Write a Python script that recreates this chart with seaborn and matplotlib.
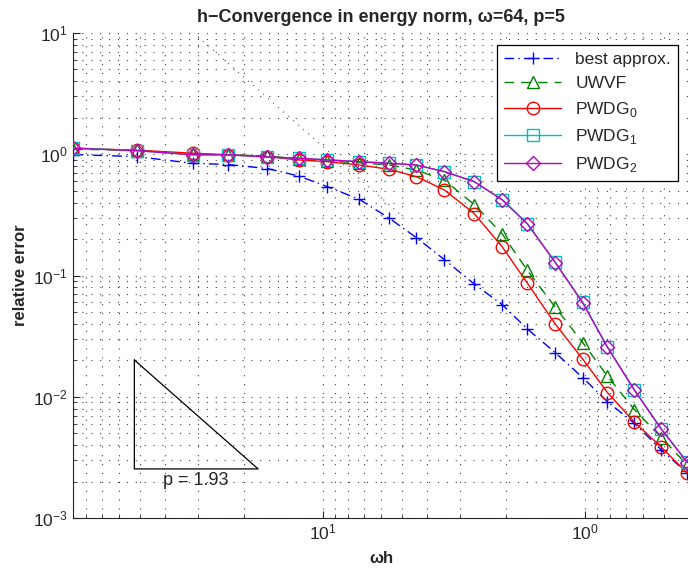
import numpy as np
import pandas as pd
import matplotlib
matplotlib.use("Agg")
import matplotlib.pyplot as plt
import seaborn as sns

# mesh sizes (omega*h), decreasing to the right
omega_h = [89.8, 51.2, 31.3, 23.0, 16.3, 12.4, 9.63, 7.27, 5.58, 4.40,
           3.44, 2.65, 2.07, 1.66, 1.30, 1.02, 0.822, 0.648, 0.512, 0.407]

best_approx = [0.995, 0.955, 0.841, 0.823, 0.762, 0.662, 0.540, 0.425, 0.296, 0.205,
               0.135, 0.0851, 0.0574, 0.0362, 0.0231, 0.01435, 0.0091, 0.00604, 0.00364, 0.00235]
uwvf = [1.10, 1.08, 1.00, 0.99, 0.97, 0.91, 0.88, 0.85, 0.815, 0.74,
        0.61, 0.385, 0.220, 0.110, 0.0547, 0.0279, 0.0148, 0.00783, 0.00461, 0.00273]
pwdg0 = [1.12, 1.08, 1.02, 0.99, 0.955, 0.897, 0.869, 0.815, 0.751, 0.653,
         0.507, 0.324, 0.172, 0.0863, 0.0398, 0.0204, 0.01084, 0.00617, 0.00384, 0.00234]
pwdg1 = [1.13, 1.07, 0.99, 0.99, 0.95, 0.927, 0.898, 0.869, 0.845, 0.815,
         0.720, 0.596, 0.422, 0.268, 0.129, 0.0600, 0.0258, 0.0114, 0.00545, 0.00288]
pwdg2 = [1.12, 1.07, 0.99, 0.99, 0.95, 0.927, 0.898, 0.869, 0.841, 0.815,
         0.718, 0.594, 0.420, 0.266, 0.128, 0.0591, 0.0256, 0.0113, 0.00540, 0.00286]

# reference slope line (dotted) and triangle
ref_x = [30.0, 5.0]
ref_y = [9.3, 0.31]
tri_x = [52.5, 52.5, 17.7, 52.5]
tri_y = [0.0201, 0.00254, 0.00254, 0.0201]

sns.set_style("ticks")
plt.rcParams["font.family"] = ["Liberation Sans", "DejaVu Sans"]
plt.rcParams["mathtext.fontset"] = "custom"
plt.rcParams["mathtext.rm"] = "Liberation Sans"

fig = plt.figure(figsize=(6.88, 5.70), dpi=100)
ax = fig.add_axes([73 / 688, 1 - 518 / 570, 1 - 73 / 688 + 0.002, (518 - 33) / 570])

ax.plot(ref_x, ref_y, linestyle=(0, (1, 5)), color="0.35", linewidth=0.8, zorder=1)

series = [
    ("best approx.", best_approx, "#0000ff", (0, (7, 3, 1, 3)), "+"),
    ("UWVF", uwvf, "#008000", (0, (7, 5)), "^"),
    ("PWDG$_0$", pwdg0, "#ff0000", "-", "o"),
    ("PWDG$_1$", pwdg1, "#00bfbf", "-", "s"),
    ("PWDG$_2$", pwdg2, "#bf00bf", "-", "D"),
]
for name, vals, col, ls, mk in series:
    df = pd.DataFrame({"wh": omega_h, "err": vals})
    sns.lineplot(data=df, x="wh", y="err", ax=ax, color=col, linestyle=ls,
                 marker=mk, markersize=9 if mk != "D" else 7.5,
                 markerfacecolor="none", markeredgecolor=col,
                 markeredgewidth=1.0, linewidth=1.0, label=name, sort=False,
                 zorder=3)

ax.plot(tri_x, tri_y, color="black", linewidth=0.9, zorder=2)
ax.text(30.5, 0.00202, "p = 1.93", ha="center", va="center", fontsize=13)

ax.set_xscale("log")
ax.set_yscale("log")
ax.set_xlim(90, 0.40)
ax.set_ylim(1e-3, 1e1)

ax.grid(True, which="both", linestyle=(0, (1, 7)), color="0.25", linewidth=0.8)
ax.tick_params(which="both", direction="in", labelsize=12.5)
ax.tick_params(which="major", length=5)
ax.tick_params(which="minor", length=3)
sns.despine(ax=ax, top=True, right=True)

ax.set_title("h\u2212Convergence in energy norm, \u03c9=64, p=5",
             fontweight="bold", fontsize=13, pad=8)
ax.set_xlabel("\u03c9h", fontweight="bold", fontsize=12, labelpad=6)
ax.set_ylabel("relative error", fontweight="bold", fontsize=12)

leg = ax.legend(loc="upper right", bbox_to_anchor=(678 / 688, 1 - 45 / 570),
                bbox_transform=fig.transFigure, borderaxespad=0, fontsize=12.5,
                handlelength=3.3, fancybox=False, framealpha=1,
                edgecolor="black")
leg.get_frame().set_linewidth(0.9)

fig.savefig("out.png", dpi=100)
